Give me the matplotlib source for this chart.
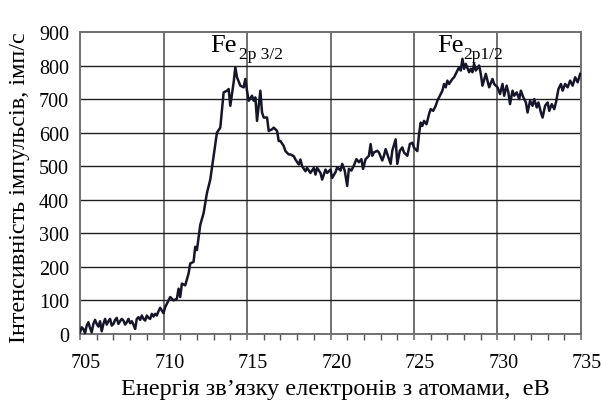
import matplotlib
matplotlib.use("Agg")
import matplotlib.pyplot as plt
import matplotlib.transforms as mtransforms
from matplotlib.ticker import MultipleLocator

energy = [705.0, 705.1, 705.2, 705.3, 705.4, 705.5, 705.6, 705.7, 705.8, 705.9,
          706.0, 706.1, 706.2, 706.3, 706.4, 706.5, 706.6, 706.7, 706.8, 706.9,
          707.0, 707.1, 707.2, 707.3, 707.4, 707.5, 707.6, 707.7, 707.8, 707.9,
          708.0, 708.1, 708.2, 708.3, 708.4, 708.5, 708.6, 708.7, 708.8, 708.9,
          709.0, 709.1, 709.2, 709.3, 709.4, 709.5, 709.6, 709.7, 709.8, 709.9,
          710.0, 710.1, 710.3, 710.4, 710.6, 710.8, 710.9, 711.0, 711.1, 711.3,
          711.5, 711.6, 711.8, 711.9, 712.0, 712.2, 712.4, 712.6, 712.8, 713.0,
          713.2, 713.4, 713.6, 713.8, 713.9, 714.0, 714.2, 714.3, 714.4, 714.6,
          714.8, 714.9, 715.0, 715.1, 715.3, 715.4, 715.5, 715.6, 715.8, 715.9,
          716.0, 716.2, 716.3, 716.5, 716.6, 716.8, 716.9, 717.0, 717.2, 717.3,
          717.5, 717.6, 717.8, 717.9, 718.1, 718.2, 718.3, 718.5, 718.6, 718.8,
          719.0, 719.1, 719.2, 719.4, 719.5, 719.7, 719.8, 720.0, 720.1, 720.3,
          720.4, 720.6, 720.7, 720.85, 721.0, 721.1, 721.25, 721.4, 721.55, 721.7,
          721.85, 721.95, 722.1, 722.3, 722.4, 722.5, 722.6, 722.8, 722.9, 723.1,
          723.2, 723.3, 723.5, 723.6, 723.7, 723.9, 724.0, 724.15, 724.3, 724.4,
          724.6, 724.75, 724.9, 725.0, 725.2, 725.3, 725.4, 725.5, 725.6, 725.75,
          725.9, 726.0, 726.15, 726.3, 726.4, 726.6, 726.7, 726.8, 726.9, 727.0,
          727.1, 727.3, 727.4, 727.5, 727.7, 727.8, 727.9, 728.0, 728.1, 728.3,
          728.4, 728.5, 728.6, 728.7, 728.9, 729.0, 729.1, 729.3, 729.4, 729.5,
          729.7, 729.8, 730.0, 730.15, 730.3, 730.4, 730.55, 730.65, 730.75, 730.9,
          731.0, 731.15, 731.3, 731.4, 731.55, 731.7, 731.8, 731.95, 732.1, 732.2,
          732.35, 732.45, 732.6, 732.7, 732.85, 733.0, 733.1, 733.25, 733.4, 733.5,
          733.65, 733.8, 733.9, 734.05, 734.2, 734.35, 734.5, 734.65, 734.8, 734.95]

counts = [5, 20, 15, 2, 25, 35, 18, 5, 30, 42,
          30, 22, 38, 8, 30, 45, 28, 38, 45, 25,
          30, 42, 48, 30, 38, 45, 40, 28, 35, 45,
          32, 38, 28, 15, 45, 50, 42, 55, 45, 40,
          55, 48, 45, 60, 52, 60, 55, 68, 78, 70,
          62, 80, 100, 110, 100, 105, 135, 110, 150, 145,
          180, 210, 215, 260, 250, 325, 360, 420, 460, 530,
          600, 615, 720, 725, 730, 680, 750, 795, 765, 740,
          735, 760, 725, 695, 710, 695, 705, 635, 725, 660,
          645, 645, 605, 610, 615, 605, 575, 575, 560, 545,
          535, 535, 530, 520, 505, 520, 500, 485, 495, 480,
          495, 475, 495, 480, 460, 490, 480, 490, 465, 482,
          497, 487, 507, 487, 441, 492, 487, 502, 521, 512,
          521, 492, 521, 531, 566, 531, 541, 546, 541, 517,
          531, 551, 521, 507, 546, 580, 507, 546, 556, 541,
          531, 566, 570, 555, 545, 595, 630, 620, 635, 625,
          655, 670, 665, 680, 695, 715, 725, 745, 735, 755,
          745, 760, 765, 775, 795, 785, 820, 790, 805, 780,
          790, 780, 805, 785, 800, 775, 740, 775, 755, 735,
          760, 745, 735, 715, 745, 710, 740, 720, 685, 725,
          710, 720, 700, 725, 705, 690, 660, 695, 680, 700,
          675, 690, 660, 645, 680, 690, 665, 685, 670, 690,
          730, 745, 725, 745, 735, 755, 740, 765, 750, 775]

x_ticks = [705, 710, 715, 720, 725, 730, 735]
y_ticks = [0, 100, 200, 300, 400, 500, 600, 700, 800, 900]
x_label = "Енергія зв\u2019язку електронів з атомами,  еВ"
y_label = "Інтенсивність імпульсів, імп/с"
peak_labels = [("Fe", "2p 3/2", 712.8, 842, 714.55, 821),
               ("Fe", "2p1/2", 726.4, 842, 727.95, 821)]

plt.rcParams['font.family'] = ['Liberation Serif', 'DejaVu Serif']

fig = plt.figure(figsize=(6.03, 4.02), dpi=100)
ax = fig.add_axes([0.1327, 0.1667, 0.8308, 0.7513])

ax.plot(energy, counts, color='#16162a', lw=1.8, zorder=3)

ax.set_xlim(705, 735)
ax.set_ylim(0, 900)
ax.set_xticks(x_ticks)
ax.set_yticks(y_ticks)
ax.xaxis.set_minor_locator(MultipleLocator(1))
ax.tick_params(axis='x', which='major', direction='out', length=4, width=1.2,
               color='#707070', labelsize=14.5, pad=10)
ax.tick_params(axis='x', which='minor', direction='out', length=4, width=1,
               color='#555555')
ax.tick_params(axis='y', which='major', length=0, labelsize=14.5, pad=8)

offset = mtransforms.ScaledTranslation(6 / 100, 0, fig.dpi_scale_trans)
for lbl in ax.get_xticklabels():
    lbl.set_transform(lbl.get_transform() + offset)

for v in x_ticks[1:-1]:
    ax.axvline(v, color='#707070', lw=1.4, zorder=1)
for v in y_ticks[1:-1]:
    ax.axhline(v, color='#202020', lw=1.0, zorder=1)

for s in ax.spines.values():
    s.set_color('#707070')
    s.set_linewidth(1.4)

for main, sub, x1, y1, x2, y2 in peak_labels:
    ax.text(x1, y1, main, fontsize=19, ha='left', va='baseline', zorder=4)
    ax.text(x2, y2, sub, fontsize=12.5, ha='left', va='baseline', zorder=4)

ax.set_xlabel(x_label, fontsize=17.5)
ax.xaxis.label.set_va('baseline')
ax.xaxis.set_label_coords(0.509, -0.199)
ax.set_ylabel(y_label, fontsize=17.5)
ax.yaxis.set_label_coords(-0.1, 0.488)

fig.savefig("out.png", dpi=100)
